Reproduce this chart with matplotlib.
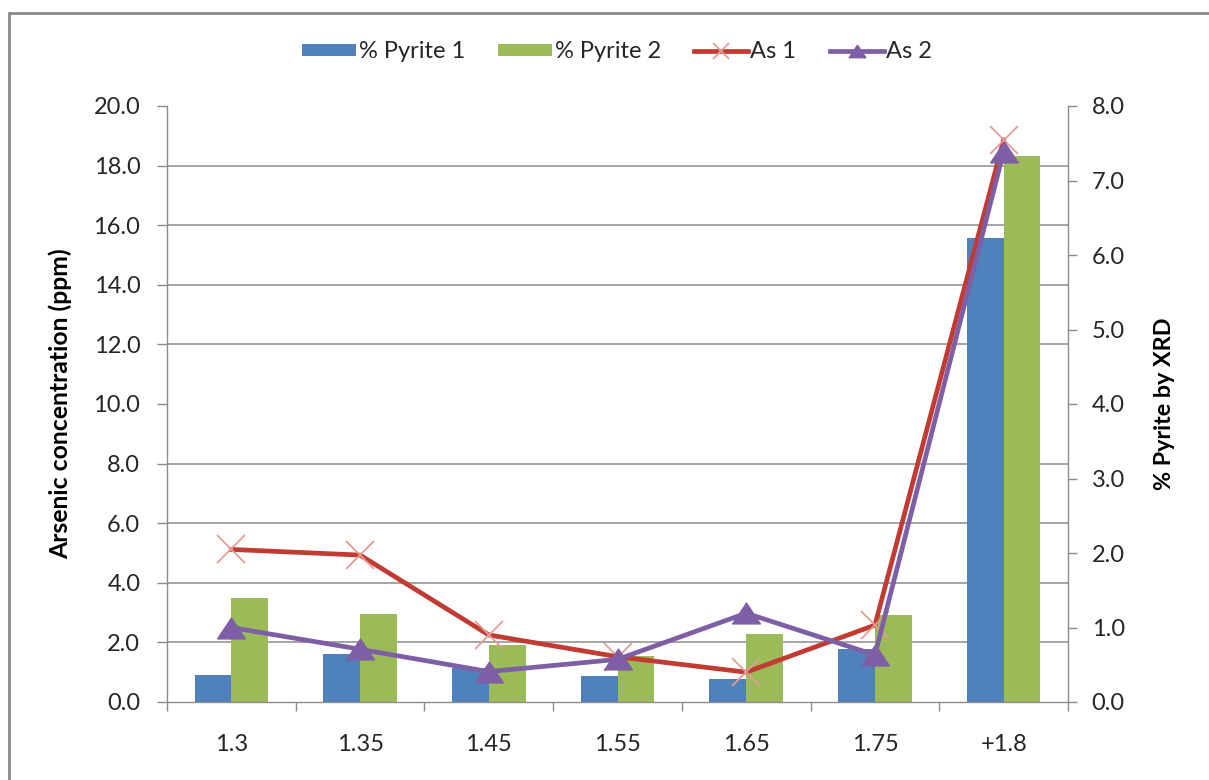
import matplotlib
matplotlib.use("Agg")
import matplotlib.pyplot as plt
import numpy as np
from matplotlib.ticker import MultipleLocator, FixedLocator, FormatStrFormatter
from matplotlib.path import Path
from matplotlib.patches import Rectangle

# Density fractions and measured values
categories = ["1.3", "1.35", "1.45", "1.55", "1.65", "1.75", "+1.8"]
pyrite_1 = [0.36, 0.65, 0.45, 0.35, 0.31, 0.71, 6.23]   # % pyrite by XRD
pyrite_2 = [1.39, 1.18, 0.76, 0.62, 0.91, 1.17, 7.33]   # % pyrite by XRD
as_1 = [5.12, 4.93, 2.25, 1.52, 1.00, 2.58, 18.86]      # arsenic, ppm
as_2 = [2.50, 1.77, 1.02, 1.43, 2.98, 1.58, 18.47]      # arsenic, ppm

BLUE = "#4F81BD"
GREEN = "#9BBB59"
RED = "#C23B33"
RED_MARK = "#E59C95"
PURPLE = "#7E5FA6"
AXIS = "#8C8C8C"
TEXT = "#262626"
FONT = "Lato"

W, H = 1209, 780
fig = plt.figure(figsize=(W / 100, H / 100), dpi=100)
fig.patch.set_facecolor("white")

ax = fig.add_axes([167 / W, 1 - 702 / H, 901 / W, 596 / H])
ax2 = ax.twinx()
ax.set_zorder(ax2.get_zorder() + 1)
ax.patch.set_visible(False)

x = np.arange(len(categories))
bw = 0.286

# Pyrite bars on the secondary (right) axis
b1 = ax2.bar(x - bw / 2, pyrite_1, bw, color=BLUE, label="% Pyrite 1", zorder=2)
b2 = ax2.bar(x + bw / 2, pyrite_2, bw, color=GREEN, label="% Pyrite 2", zorder=2)

# Arsenic lines on the primary (left) axis
tri = Path([(-1, -0.75), (1, -0.75), (0, 0.75), (-1, -0.75)],
           [Path.MOVETO, Path.LINETO, Path.LINETO, Path.CLOSEPOLY])
l1, = ax.plot(x, as_1, color=RED, lw=3.4, marker="x", ms=20,
              mec=RED_MARK, mew=1.3, label="As 1", solid_joinstyle="round")
l2, = ax.plot(x, as_2, color=PURPLE, lw=3.4, marker=tri, ms=20,
              mfc=PURPLE, mec=PURPLE, label="As 2", solid_joinstyle="round")

ax.set_xlim(-0.5, len(categories) - 0.5)
ax.set_ylim(0, 20)
ax2.set_ylim(0, 8)

ax.yaxis.set_major_locator(MultipleLocator(2))
ax.yaxis.set_major_formatter(FormatStrFormatter("%.1f"))
ax2.yaxis.set_major_locator(MultipleLocator(1))
ax2.yaxis.set_major_formatter(FormatStrFormatter("%.1f"))

# Horizontal gridlines at the left-axis steps, drawn behind the bars
ax2.yaxis.set_minor_locator(MultipleLocator(0.8))
ax2.grid(which="minor", axis="y", color=AXIS, lw=1.1)
ax2.set_axisbelow(True)
ax2.tick_params(axis="y", which="minor", length=0)

# Category labels centred, tick marks between categories
ax.set_xticks(x)
ax.set_xticklabels(categories)
ax.xaxis.set_minor_locator(FixedLocator(np.arange(-0.5, len(categories), 1.0)))
ax.tick_params(axis="x", which="major", length=0, pad=23)
ax.tick_params(axis="x", which="minor", length=6.5, width=1, color=AXIS)

ax.tick_params(axis="y", which="major", length=7.2, width=1, color=AXIS, pad=12)
ax2.tick_params(axis="y", which="major", length=6.5, width=1, color=AXIS, pad=10.5)

for a in (ax, ax2):
    for lbl in a.get_xticklabels() + a.get_yticklabels():
        lbl.set_fontfamily(FONT)
        lbl.set_fontsize(17)
        lbl.set_color(TEXT)

for name, sp in ax.spines.items():
    sp.set_color(AXIS)
    sp.set_linewidth(1)
ax.spines["top"].set_visible(False)
ax.spines["right"].set_visible(False)
for name, sp in ax2.spines.items():
    sp.set_visible(name == "right")
    sp.set_color(AXIS)
    sp.set_linewidth(1)

ax.set_ylabel("Arsenic concentration (ppm)", fontfamily=FONT, fontsize=17.8,
              fontweight="bold", color="black")
ax.yaxis.set_label_coords((72 - 167) / 901, 0.5)
ax2.set_ylabel("% Pyrite by XRD", fontfamily=FONT, fontsize=16.8,
               fontweight="bold", color="black")
ax2.yaxis.set_label_coords((1154 - 167) / 901, 0.5)

fig.legend(handles=[b1, b2, l1, l2], loc="center",
           bbox_to_anchor=(617 / W, 1 - 52 / H), ncol=4, frameon=False,
           prop={"family": FONT, "size": 17}, handlelength=2.3,
           handleheight=0.45, handletextpad=0.1, columnspacing=1.4,
           markerscale=0.6, labelcolor=TEXT)

# Chart-area frame
fig.add_artist(Rectangle((9 / W, -0.05), 1.2, 1 - 13 / H + 0.05,
                         transform=fig.transFigure, fill=False,
                         edgecolor="#8A8A8A", lw=2, clip_on=False))

fig.savefig("out.png", dpi=100, facecolor="white")
